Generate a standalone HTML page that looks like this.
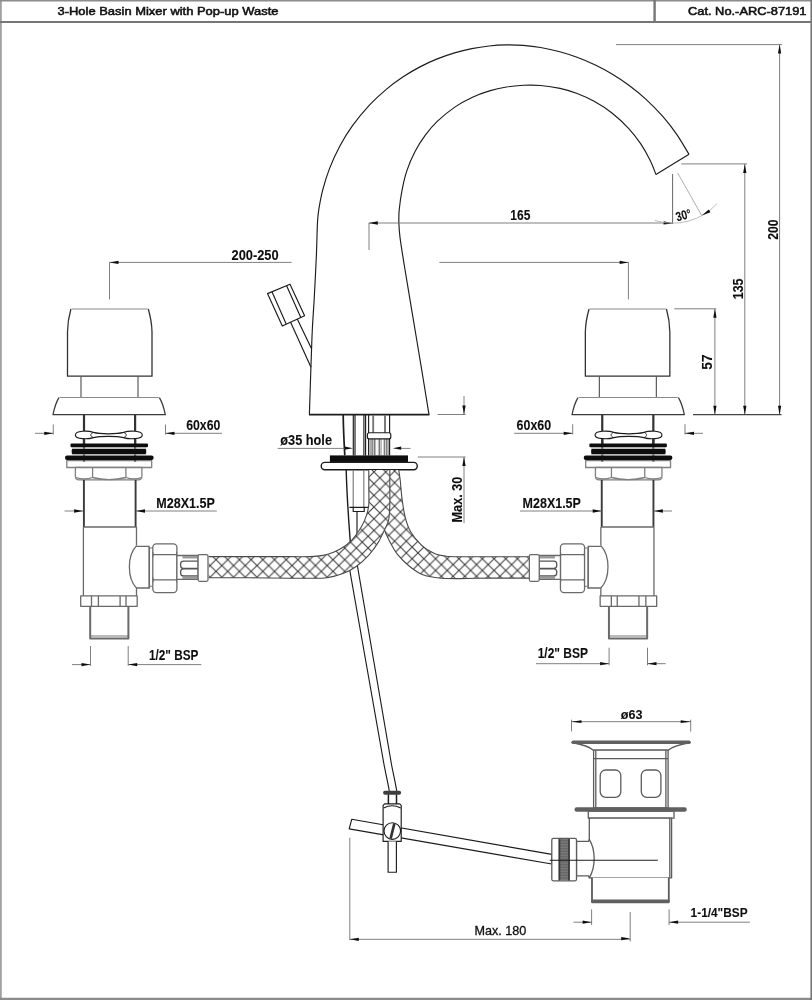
<!DOCTYPE html>
<html><head><meta charset="utf-8"><title>3-Hole Basin Mixer with Pop-up Waste</title>
<style>
html,body{margin:0;padding:0;background:#fff;}
body{width:812px;height:1000px;overflow:hidden;font-family:"Liberation Sans",sans-serif;}
svg{display:block;}
.o{fill:none;stroke:#1c1c1c;stroke-width:1.15;stroke-linejoin:round;stroke-linecap:butt;}
.g{fill:none;stroke:#5c5c5c;stroke-width:1.3;stroke-linejoin:round;}
.h{fill:none;stroke:#484848;stroke-width:1.1;}
.v{fill:none;stroke:#6a6a6a;stroke-width:1.3;stroke-linejoin:round;}
.w{fill:#fff;}
.d{fill:none;stroke:#727272;stroke-width:0.9;}
.a{fill:#111;stroke:none;}
.f{fill:none;stroke:#6e6e6e;stroke-width:2;}
.th{font-family:"Liberation Sans",sans-serif;font-weight:normal;fill:#111;stroke:#111;stroke-width:0.55;}
.t{font-family:"Liberation Sans",sans-serif;font-weight:bold;fill:#111;stroke:#111;stroke-width:0.1;}
.t2{font-family:"Liberation Sans",sans-serif;font-weight:normal;fill:#111;stroke:#111;stroke-width:0.3;}
</style></head><body>
<svg width="812" height="1000" viewBox="0 0 812 1000">
<defs>
<pattern id="hx" width="11.7" height="11.7" patternUnits="userSpaceOnUse" patternTransform="translate(216,559.7)">
<path d="M-1,-1 L12.7,12.7 M12.7,-1 L-1,12.7" stroke="#3c3c3c" stroke-width="1.05" fill="none"/>
</pattern>
<pattern id="hx2" width="11.7" height="11.7" patternUnits="userSpaceOnUse" patternTransform="translate(458.95,558.75)">
<path d="M-1,-1 L12.7,12.7 M12.7,-1 L-1,12.7" stroke="#3c3c3c" stroke-width="1.05" fill="none"/>
</pattern>
<pattern id="kn2" width="1.7" height="4" patternUnits="userSpaceOnUse">
<rect width="1.7" height="4" fill="#ddd"/><path d="M0.5,0 V4" stroke="#555" stroke-width="0.8"/>
</pattern>
<pattern id="kn" width="4" height="1.6" patternUnits="userSpaceOnUse">
<rect width="4" height="1.6" fill="#7c7c7c"/><path d="M0,0.5 H4" stroke="#5a5a5a" stroke-width="0.7"/>
</pattern>
<filter id="bl" x="0" y="0" width="812" height="1000" filterUnits="userSpaceOnUse"><feGaussianBlur stdDeviation="0.5"/></filter>
</defs>
<g filter="url(#bl)">
<rect x="0" y="0" width="812" height="1000" fill="#fff"/>
<path style="stroke:#a0a0a0;stroke-width:1.8" class="f" d="M0.9,0 V1000"/>
<path style="stroke:#8c8c8c;stroke-width:1.6" class="f" d="M0,0.7 H812"/>
<path style="stroke:#8c8c8c;stroke-width:2.3" class="f" d="M0,998.9 H812"/>
<path style="stroke:#6e6e6e;stroke-width:1.5" class="f" d="M811.2,0 V1000"/>
<path style="stroke:#767676;stroke-width:2.1" class="f" d="M0,22 H812"/>
<path style="stroke:#767676;stroke-width:2.4" class="f" d="M654.6,0 V22"/>
<text class="th" x="57.5" y="15.4" font-size="11.6" textLength="221" lengthAdjust="spacingAndGlyphs">3-Hole Basin Mixer with Pop-up Waste</text>
<text class="th" x="688" y="15.4" font-size="11.6" textLength="118.5" lengthAdjust="spacingAndGlyphs">Cat. No.-ARC-87191</text>
<path class="o" d="M309.40,414.60 C309.83,401.57 311.20,355.67 312.00,336.40 C312.80,317.13 313.47,312.57 314.20,299.00 C314.93,285.43 315.85,267.83 316.40,255.00 C316.95,242.17 317.06,229.81 317.50,222.00 C317.94,214.19 318.14,213.58 319.04,208.11 C319.95,202.65 321.17,195.83 322.93,189.20 C324.69,182.58 326.80,175.53 329.60,168.37 C332.41,161.21 335.97,153.30 339.76,146.23 C343.55,139.16 347.40,132.80 352.34,125.95 C357.28,119.11 363.75,111.27 369.40,105.18 C375.05,99.08 380.63,94.09 386.25,89.36 C391.88,84.64 397.53,80.56 403.15,76.82 C408.77,73.07 414.29,69.87 419.97,66.88 C425.65,63.90 431.45,61.24 437.22,58.90 C442.99,56.56 448.80,54.56 454.57,52.84 C460.34,51.12 466.09,49.73 471.84,48.58 C477.58,47.43 483.34,46.58 489.07,45.97 C494.80,45.36 500.49,45.02 506.21,44.92 C511.93,44.83 517.64,44.98 523.38,45.41 C529.13,45.85 534.60,46.47 540.68,47.53 C546.75,48.59 553.78,50.15 559.84,51.78 C565.90,53.42 571.21,55.15 577.04,57.33 C582.87,59.51 588.99,62.06 594.81,64.84 C600.64,67.62 606.26,70.57 611.99,74.00 C617.73,77.44 623.57,81.26 629.20,85.43 C634.83,89.61 640.19,93.88 645.79,99.05 C651.39,104.21 657.63,110.55 662.79,116.43 C667.94,122.31 672.36,128.02 676.73,134.33 C681.09,140.64 686.95,150.96 689.00,154.29"/>
<path class="o" d="M429.00,414.60 C427.83,407.43 424.63,387.57 422.00,371.60 C419.37,355.63 416.13,336.40 413.20,318.80 C410.27,301.20 406.60,279.57 404.40,266.00 C402.20,252.43 400.92,244.55 400.00,237.40 C399.08,230.25 399.03,227.67 398.90,223.10 C398.77,218.53 398.65,215.62 399.20,210.00 C399.75,204.38 400.90,196.00 402.20,189.39 C403.50,182.77 404.82,176.69 406.98,170.33 C409.14,163.97 412.15,157.06 415.17,151.23 C418.20,145.40 421.47,140.32 425.15,135.35 C428.82,130.38 432.21,126.16 437.21,121.41 C442.21,116.66 449.26,110.88 455.15,106.85 C461.03,102.81 466.80,99.85 472.52,97.19 C478.23,94.52 483.80,92.56 489.44,90.86 C495.09,89.16 500.72,87.93 506.39,87.01 C512.05,86.08 517.70,85.55 523.43,85.29 C529.15,85.04 534.63,84.97 540.74,85.49 C546.85,86.01 554.00,87.07 560.06,88.42 C566.13,89.76 571.40,91.35 577.15,93.54 C582.90,95.73 588.78,98.32 594.58,101.56 C600.38,104.80 606.29,108.52 611.95,112.98 C617.61,117.44 623.77,123.20 628.54,128.32 C633.32,133.43 637.00,138.31 640.61,143.66 C644.22,149.02 647.65,155.32 650.21,160.46 C652.77,165.60 655.01,172.17 655.97,174.51"/>
<path class="o" d="M655.97,174.51 L689.00,154.29"/>
<path style="stroke-width:1.6" class="o" d="M309,414.6 H429.4"/>
<path class="o" d="M267.5,293.6 L290,284.2 L304.6,315.8 L282.3,326 Z M272.2,292.2 L286.3,324.2 M286.6,285.8 L300.9,317.8 M290.6,322.3 L311,367.3 M297.4,319.3 L311.3,348.2"/>
<path style="stroke-width:1.7" class="o" d="M343.2,415 C343.4,430 344.2,445 344.8,455.4"/>
<path class="o" d="M353.3,415 V455.4 M355,415 V455.4 M363.9,415 V455.4 M365.6,415 V455.4"/>
<path class="o" d="M368.6,415 V455.4 M389.6,415 V455.4"/>
<path style="stroke:#777;stroke-width:1.9" class="o" d="M373.2,415 V433 M385,415 V433"/>
<rect x="369.6" y="438.9" width="19.4" height="16.6" fill="url(#kn2)"/>
<path d="M377,438.9 V455.4 M382.5,438.9 V455.4" stroke="#fff" stroke-width="1.8" fill="none"/>
<rect class="o w" x="367.4" y="432.7" width="23.4" height="6.2" rx="2"/>
<rect x="329.9" y="455.4" width="78.1" height="7" fill="#111"/>
<rect style="stroke-width:1.4" class="o w" x="321.2" y="462.4" width="96.1" height="7.3" rx="3.6"/>
<path style="stroke-width:1.4" class="o" d="M346.2,469.9 C347,500 349,525 350.3,542"/>
<path style="stroke:#7a7a7a" class="o" d="M353.2,469.9 V507.3 M363.8,469.9 V507.3"/>
<path class="o" d="M349.4,507.3 H368 M353.2,507.3 V511.5 H364.2 V507.3 M357,511.5 V540"/>
<path d="M398.70,469.90 C398.90,471.25 399.76,476.19 400.20,480.00 C400.64,483.81 401.35,493.58 402.00,498.50 C402.65,503.42 403.95,512.47 405.10,516.90 C406.25,521.33 408.39,527.91 410.60,531.70 C412.81,535.49 418.58,542.42 421.70,545.30 C424.82,548.18 430.71,551.83 434.00,553.30 C437.29,554.77 442.93,555.83 446.40,556.30 C449.87,556.77 455.52,556.75 460.00,556.80 C464.48,556.85 474.67,556.71 480.00,556.70 C485.33,556.69 493.36,556.70 500.00,556.70 C506.64,556.70 525.83,556.70 529.80,556.70 L529.80,578.10 C525.83,578.10 507.31,578.07 500.00,578.10 C492.69,578.13 480.84,578.23 475.00,578.30 C469.16,578.37 461.00,578.64 456.20,578.60 C451.40,578.56 443.43,578.51 439.00,578.00 C434.57,577.49 426.95,576.37 423.00,574.80 C419.05,573.23 412.85,568.99 409.40,566.20 C405.95,563.41 399.89,557.51 397.10,553.90 C394.31,550.29 390.22,542.38 388.50,539.10 C386.78,535.82 385.33,532.51 384.20,529.30 C383.07,526.09 380.83,520.24 380.00,515.00 C379.17,509.76 378.31,496.01 378.00,490.00 C377.69,483.99 377.74,472.58 377.70,469.90 Z" fill="#fff" stroke="none"/>
<path d="M398.70,469.90 C398.90,471.25 399.76,476.19 400.20,480.00 C400.64,483.81 401.35,493.58 402.00,498.50 C402.65,503.42 403.95,512.47 405.10,516.90 C406.25,521.33 408.39,527.91 410.60,531.70 C412.81,535.49 418.58,542.42 421.70,545.30 C424.82,548.18 430.71,551.83 434.00,553.30 C437.29,554.77 442.93,555.83 446.40,556.30 C449.87,556.77 455.52,556.75 460.00,556.80 C464.48,556.85 474.67,556.71 480.00,556.70 C485.33,556.69 493.36,556.70 500.00,556.70 C506.64,556.70 525.83,556.70 529.80,556.70 L529.80,578.10 C525.83,578.10 507.31,578.07 500.00,578.10 C492.69,578.13 480.84,578.23 475.00,578.30 C469.16,578.37 461.00,578.64 456.20,578.60 C451.40,578.56 443.43,578.51 439.00,578.00 C434.57,577.49 426.95,576.37 423.00,574.80 C419.05,573.23 412.85,568.99 409.40,566.20 C405.95,563.41 399.89,557.51 397.10,553.90 C394.31,550.29 390.22,542.38 388.50,539.10 C386.78,535.82 385.33,532.51 384.20,529.30 C383.07,526.09 380.83,520.24 380.00,515.00 C379.17,509.76 378.31,496.01 378.00,490.00 C377.69,483.99 377.74,472.58 377.70,469.90 Z" fill="url(#hx2)" stroke="none"/>
<path class="h" d="M398.70,469.90 C398.90,471.25 399.76,476.19 400.20,480.00 C400.64,483.81 401.35,493.58 402.00,498.50 C402.65,503.42 403.95,512.47 405.10,516.90 C406.25,521.33 408.39,527.91 410.60,531.70 C412.81,535.49 418.58,542.42 421.70,545.30 C424.82,548.18 430.71,551.83 434.00,553.30 C437.29,554.77 442.93,555.83 446.40,556.30 C449.87,556.77 455.52,556.75 460.00,556.80 C464.48,556.85 474.67,556.71 480.00,556.70 C485.33,556.69 493.36,556.70 500.00,556.70 C506.64,556.70 525.83,556.70 529.80,556.70"/>
<path class="h" d="M529.80,578.10 C525.83,578.10 507.31,578.07 500.00,578.10 C492.69,578.13 480.84,578.23 475.00,578.30 C469.16,578.37 461.00,578.64 456.20,578.60 C451.40,578.56 443.43,578.51 439.00,578.00 C434.57,577.49 426.95,576.37 423.00,574.80 C419.05,573.23 412.85,568.99 409.40,566.20 C405.95,563.41 399.89,557.51 397.10,553.90 C394.31,550.29 390.22,542.38 388.50,539.10 C386.78,535.82 385.33,532.51 384.20,529.30 C383.07,526.09 380.83,520.24 380.00,515.00 C379.17,509.76 378.31,496.01 378.00,490.00 C377.69,483.99 377.74,472.58 377.70,469.90"/>
<path class="o" d="M346.2,550 L384.1,765 C385.4,772 388,783 389.3,791 M354.7,550 L391.6,765 C392.9,772 395.5,783 396.7,791"/>
<path d="M368.80,469.90 C368.80,471.91 368.80,480.37 368.80,485.00 C368.80,489.63 369.12,500.51 368.80,504.60 C368.48,508.69 367.39,512.74 366.40,515.70 C365.41,518.66 363.37,523.52 361.40,526.80 C359.43,530.08 354.55,537.26 351.60,540.30 C348.65,543.34 342.59,547.71 339.30,549.60 C336.01,551.49 330.19,553.59 326.90,554.50 C323.61,555.41 318.19,556.11 314.60,556.40 C311.01,556.69 304.61,556.67 300.00,556.70 C295.39,556.73 286.67,556.61 280.00,556.60 C273.33,556.59 259.51,556.60 250.00,556.60 C240.49,556.60 214.21,556.60 208.70,556.60 L208.70,577.70 C214.21,577.71 239.16,577.73 250.00,577.80 C260.84,577.87 282.20,578.13 290.00,578.20 C297.80,578.27 303.58,578.37 308.50,578.30 C313.42,578.23 322.30,578.33 326.90,577.70 C331.50,577.07 339.05,575.13 343.00,573.60 C346.95,572.07 353.06,568.67 356.50,566.20 C359.94,563.73 365.84,558.38 368.80,555.10 C371.76,551.82 376.57,545.04 378.70,541.60 C380.83,538.16 383.48,532.18 384.80,529.30 C386.12,526.42 387.93,523.24 388.60,520.00 C389.27,516.76 389.64,509.67 389.80,505.00 C389.96,500.33 389.80,489.68 389.80,485.00 C389.80,480.32 389.80,471.91 389.80,469.90 Z" fill="#fff" stroke="none"/>
<path d="M368.80,469.90 C368.80,471.91 368.80,480.37 368.80,485.00 C368.80,489.63 369.12,500.51 368.80,504.60 C368.48,508.69 367.39,512.74 366.40,515.70 C365.41,518.66 363.37,523.52 361.40,526.80 C359.43,530.08 354.55,537.26 351.60,540.30 C348.65,543.34 342.59,547.71 339.30,549.60 C336.01,551.49 330.19,553.59 326.90,554.50 C323.61,555.41 318.19,556.11 314.60,556.40 C311.01,556.69 304.61,556.67 300.00,556.70 C295.39,556.73 286.67,556.61 280.00,556.60 C273.33,556.59 259.51,556.60 250.00,556.60 C240.49,556.60 214.21,556.60 208.70,556.60 L208.70,577.70 C214.21,577.71 239.16,577.73 250.00,577.80 C260.84,577.87 282.20,578.13 290.00,578.20 C297.80,578.27 303.58,578.37 308.50,578.30 C313.42,578.23 322.30,578.33 326.90,577.70 C331.50,577.07 339.05,575.13 343.00,573.60 C346.95,572.07 353.06,568.67 356.50,566.20 C359.94,563.73 365.84,558.38 368.80,555.10 C371.76,551.82 376.57,545.04 378.70,541.60 C380.83,538.16 383.48,532.18 384.80,529.30 C386.12,526.42 387.93,523.24 388.60,520.00 C389.27,516.76 389.64,509.67 389.80,505.00 C389.96,500.33 389.80,489.68 389.80,485.00 C389.80,480.32 389.80,471.91 389.80,469.90 Z" fill="url(#hx)" stroke="none"/>
<path class="h" d="M368.80,469.90 C368.80,471.91 368.80,480.37 368.80,485.00 C368.80,489.63 369.12,500.51 368.80,504.60 C368.48,508.69 367.39,512.74 366.40,515.70 C365.41,518.66 363.37,523.52 361.40,526.80 C359.43,530.08 354.55,537.26 351.60,540.30 C348.65,543.34 342.59,547.71 339.30,549.60 C336.01,551.49 330.19,553.59 326.90,554.50 C323.61,555.41 318.19,556.11 314.60,556.40 C311.01,556.69 304.61,556.67 300.00,556.70 C295.39,556.73 286.67,556.61 280.00,556.60 C273.33,556.59 259.51,556.60 250.00,556.60 C240.49,556.60 214.21,556.60 208.70,556.60"/>
<path class="h" d="M208.70,577.70 C214.21,577.71 239.16,577.73 250.00,577.80 C260.84,577.87 282.20,578.13 290.00,578.20 C297.80,578.27 303.58,578.37 308.50,578.30 C313.42,578.23 322.30,578.33 326.90,577.70 C331.50,577.07 339.05,575.13 343.00,573.60 C346.95,572.07 353.06,568.67 356.50,566.20 C359.94,563.73 365.84,558.38 368.80,555.10 C371.76,551.82 376.57,545.04 378.70,541.60 C380.83,538.16 383.48,532.18 384.80,529.30 C386.12,526.42 387.93,523.24 388.60,520.00 C389.27,516.76 389.64,509.67 389.80,505.00 C389.96,500.33 389.80,489.68 389.80,485.00 C389.80,480.32 389.80,471.91 389.80,469.90"/>
<g><path style="stroke:none" class="w" d="M67.5,376.2 V332 C67.6,322 69.2,315 70.9,309 H148.3 C150,315 151.8,322 152,332 V376.2 Z"/>
<path style="stroke:#333;stroke-width:1.3" class="o" d="M70.9,309 C69.2,315 67.6,322 67.5,332 V376.2 H152 V332 C151.8,322 150,315 148.3,309"/>
<path style="stroke:#8a8a8a" class="o" d="M71.5,309 H147.7"/>
<path style="stroke:#555" class="o" d="M81,376.2 V397.4 M138,376.2 V397.4"/>
<path style="stroke:none" class="w" d="M58.9,397.4 H159.4 C162,402 164,408 165.3,414.7 H53 C54.3,408 56.3,402 58.9,397.4 Z"/>
<path style="stroke:#3a3a3a;stroke-width:1.25" class="o" d="M58.9,397.6 C56.3,402 54.3,408 53,414.7 H165.3 C164,408 162,402 159.4,397.6"/>
<path style="stroke:#8a8a8a" class="o" d="M59.5,397.5 H158.8"/>
<path style="stroke:#333;stroke-width:2.2" class="o" d="M84,415 V462 M135.1,415 V462"/>
<path class="o w" d="M75.4,434.9 C75.4,430.4 88,430.4 93.5,432.4 C100,434.3 117,434.3 123.5,432.4 C129,430.4 142.3,430.4 142.3,434.9 C142.3,439.4 129,439.4 123.5,437.6 C117,435.9 100,435.9 93.5,437.6 C88,439.4 75.4,439.4 75.4,434.9 Z"/>
<path style="stroke-width:0.9" class="o" d="M93,432.6 C90,434 90,436 93,437.4 M124,432.6 C127,434 127,436 124,437.4"/>
<path style="stroke:#333;stroke-width:2.2" class="o" d="M84,439.2 V444 M135.1,439.2 V444"/>
<rect x="70.5" y="443.5" width="77.5" height="3.8" rx="1" fill="#111"/>
<rect x="71.7" y="449" width="74.5" height="5" rx="1" fill="#111"/>
<rect x="65" y="455.6" width="88.6" height="4.4" rx="2" fill="#111"/>
<path d="M72,448.1 H146 M72,454.8 H146" stroke="#999" stroke-width="1" fill="none"/>
<rect style="stroke:#808080" class="v w" x="66.8" y="460.6" width="84.9" height="6.9"/>
<path style="stroke:#808080" class="v w" d="M75.4,467.5 V476.3 Q75.4,479.8 78.9,479.8 H138.4 Q141.9,479.8 141.9,476.3 V467.5 Z"/>
<path style="stroke:#808080" class="v" d="M92.6,467.5 V478 M125.9,467.5 V478 M76,477.5 Q84,480.5 92.6,477.5 Q109,481.8 125.9,477.5 Q134,480.5 141.3,477.5"/>
<path style="stroke:#333;stroke-width:2.2" class="o" d="M84,460.3 V461.5 M135.1,460.3 V461.5"/>
<path style="stroke:#3a3a3a;stroke-width:1.9" class="o" d="M83.9,480 V527 M135.6,480 V527"/>
<path class="v" d="M83.4,527 V595.9 M136.5,527 V545.6 M136.5,588 V595.9 M83.4,527 H136.5"/>
<path class="v" d="M136.5,545.6 C127,556 127,578 136.5,588 M136.5,546.4 H149.7 M136.5,588 H149.7"/>
<path style="stroke-width:1.7" class="v" d="M149.2,547 V588.4"/>
<path style="stroke-width:0.9" class="v" d="M150,548 H152.8 M150,586.3 H152.8"/>
<rect class="v w" x="152.8" y="543.9" width="24.1" height="48.7" rx="3.5"/>
<path class="v" d="M152.8,554.7 H176.9 M152.8,579.8 H176.9"/>
<path style="stroke-width:0.9" class="v" d="M152.8,552 Q153.8,554.7 152.8,557.4 M176.9,552 Q175.9,554.7 176.9,557.4 M152.8,577.1 Q153.8,579.8 152.8,582.5 M176.9,577.1 Q175.9,579.8 176.9,582.5"/>
<path class="v w" d="M176.9,555.5 H198.1 V579.3 H176.9 Z"/>
<path style="stroke:#9a9a9a;stroke-width:2.6" class="v" d="M182.4,557.3 H198 M182.4,577.7 H198"/>
<rect style="stroke:#555" class="v" x="180.6" y="561.1" width="22" height="7.3" rx="3"/>
<rect style="stroke:#555" class="v" x="180.6" y="568.9" width="22" height="7" rx="3"/>
<rect class="v w" x="198.1" y="554.6" width="9.9" height="26.7" rx="1.5"/>
<rect class="v w" x="80.7" y="595.9" width="56.5" height="10.4"/>
<path class="v" d="M91.5,595.9 V606.3 M98.4,595.9 V606.3 M120.1,595.9 V606.3 M126,595.9 V606.3"/>
<path style="stroke-width:2" class="v" d="M90.2,606.3 V638.4 H128.4 V606.3"/>
<path style="stroke-width:0.9" class="v" d="M90.2,636 H128.4"/></g>
<g transform="translate(737.35,0) scale(-1,1)"><path style="stroke:none" class="w" d="M67.5,376.2 V332 C67.6,322 69.2,315 70.9,309 H148.3 C150,315 151.8,322 152,332 V376.2 Z"/>
<path style="stroke:#333;stroke-width:1.3" class="o" d="M70.9,309 C69.2,315 67.6,322 67.5,332 V376.2 H152 V332 C151.8,322 150,315 148.3,309"/>
<path style="stroke:#8a8a8a" class="o" d="M71.5,309 H147.7"/>
<path style="stroke:#555" class="o" d="M81,376.2 V397.4 M138,376.2 V397.4"/>
<path style="stroke:none" class="w" d="M58.9,397.4 H159.4 C162,402 164,408 165.3,414.7 H53 C54.3,408 56.3,402 58.9,397.4 Z"/>
<path style="stroke:#3a3a3a;stroke-width:1.25" class="o" d="M58.9,397.6 C56.3,402 54.3,408 53,414.7 H165.3 C164,408 162,402 159.4,397.6"/>
<path style="stroke:#8a8a8a" class="o" d="M59.5,397.5 H158.8"/>
<path style="stroke:#333;stroke-width:2.2" class="o" d="M84,415 V462 M135.1,415 V462"/>
<path class="o w" d="M75.4,434.9 C75.4,430.4 88,430.4 93.5,432.4 C100,434.3 117,434.3 123.5,432.4 C129,430.4 142.3,430.4 142.3,434.9 C142.3,439.4 129,439.4 123.5,437.6 C117,435.9 100,435.9 93.5,437.6 C88,439.4 75.4,439.4 75.4,434.9 Z"/>
<path style="stroke-width:0.9" class="o" d="M93,432.6 C90,434 90,436 93,437.4 M124,432.6 C127,434 127,436 124,437.4"/>
<path style="stroke:#333;stroke-width:2.2" class="o" d="M84,439.2 V444 M135.1,439.2 V444"/>
<rect x="70.5" y="443.5" width="77.5" height="3.8" rx="1" fill="#111"/>
<rect x="71.7" y="449" width="74.5" height="5" rx="1" fill="#111"/>
<rect x="65" y="455.6" width="88.6" height="4.4" rx="2" fill="#111"/>
<path d="M72,448.1 H146 M72,454.8 H146" stroke="#999" stroke-width="1" fill="none"/>
<rect style="stroke:#808080" class="v w" x="66.8" y="460.6" width="84.9" height="6.9"/>
<path style="stroke:#808080" class="v w" d="M75.4,467.5 V476.3 Q75.4,479.8 78.9,479.8 H138.4 Q141.9,479.8 141.9,476.3 V467.5 Z"/>
<path style="stroke:#808080" class="v" d="M92.6,467.5 V478 M125.9,467.5 V478 M76,477.5 Q84,480.5 92.6,477.5 Q109,481.8 125.9,477.5 Q134,480.5 141.3,477.5"/>
<path style="stroke:#333;stroke-width:2.2" class="o" d="M84,460.3 V461.5 M135.1,460.3 V461.5"/>
<path style="stroke:#3a3a3a;stroke-width:1.9" class="o" d="M83.9,480 V527 M135.6,480 V527"/>
<path class="v" d="M83.4,527 V595.9 M136.5,527 V545.6 M136.5,588 V595.9 M83.4,527 H136.5"/>
<path class="v" d="M136.5,545.6 C127,556 127,578 136.5,588 M136.5,546.4 H149.7 M136.5,588 H149.7"/>
<path style="stroke-width:1.7" class="v" d="M149.2,547 V588.4"/>
<path style="stroke-width:0.9" class="v" d="M150,548 H152.8 M150,586.3 H152.8"/>
<rect class="v w" x="152.8" y="543.9" width="24.1" height="48.7" rx="3.5"/>
<path class="v" d="M152.8,554.7 H176.9 M152.8,579.8 H176.9"/>
<path style="stroke-width:0.9" class="v" d="M152.8,552 Q153.8,554.7 152.8,557.4 M176.9,552 Q175.9,554.7 176.9,557.4 M152.8,577.1 Q153.8,579.8 152.8,582.5 M176.9,577.1 Q175.9,579.8 176.9,582.5"/>
<path class="v w" d="M176.9,555.5 H198.1 V579.3 H176.9 Z"/>
<path style="stroke:#9a9a9a;stroke-width:2.6" class="v" d="M182.4,557.3 H198 M182.4,577.7 H198"/>
<rect style="stroke:#555" class="v" x="180.6" y="561.1" width="22" height="7.3" rx="3"/>
<rect style="stroke:#555" class="v" x="180.6" y="568.9" width="22" height="7" rx="3"/>
<rect class="v w" x="198.1" y="554.6" width="9.9" height="26.7" rx="1.5"/>
<rect class="v w" x="80.7" y="595.9" width="56.5" height="10.4"/>
<path class="v" d="M91.5,595.9 V606.3 M98.4,595.9 V606.3 M120.1,595.9 V606.3 M126,595.9 V606.3"/>
<path style="stroke-width:2" class="v" d="M90.2,606.3 V638.4 H128.4 V606.3"/>
<path style="stroke-width:0.9" class="v" d="M90.2,636 H128.4"/></g>
<rect x="383.1" y="790.8" width="18" height="3.9" rx="1.9" fill="#3c3c3c"/>
<path style="stroke-width:1.5" class="o" d="M388.4,794.6 V804 M396.5,794.6 V804"/>
<path class="o w" d="M351.7,819.3 L551.8,854.4 V864 L349.2,828.9 Z"/>
<path class="o w" d="M384.6,803.9 H399.7 L401.2,805.4 V841.4 H383.1 V805.4 Z"/>
<path class="o" d="M383.6,808 Q392.1,803.5 400.7,808"/>
<circle class="o w" cx="392.3" cy="831" r="8.3"/>
<path style="stroke-width:2.6;stroke:#333" class="o" d="M394.4,823.4 L390.6,838.6"/>
<path class="o w" d="M388.1,841.4 V872.2 H396.4 V841.4"/>
<path class="g w" d="M572,742.5 C585,745 590,747 593.4,750.2 H668.2 C671.5,747 677,745 690.2,742.5 Z"/>
<rect x="571.5" y="740.5" width="119.2" height="3.5" rx="1.7" fill="#606060"/>
<path class="g w" d="M593.6,750.2 V807.8 H668.1 V750.2 Z"/>
<path class="g" d="M595.8,750.2 V807.8 M665.9,750.2 V807.8 M593.6,758.7 H668.1"/>
<rect class="g" x="600.2" y="770" width="20.6" height="27.3" rx="5.5"/>
<rect class="g" x="641.3" y="770" width="19.6" height="27.3" rx="5.5"/>
<path class="g w" d="M588.3,811 V818.2 H674 V811 Z"/>
<rect x="574.5" y="807.2" width="112.3" height="4.6" rx="2.2" fill="#606060"/>
<path class="g w" d="M589.3,818.2 V877.8 H671.6 V818.2 Z"/>
<path class="g" d="M669.8,818.2 V877.8"/>
<path style="stroke-width:1.8" class="g w" d="M592,877.8 V901.5 H668.8 V877.8"/>
<rect x="591.2" y="899.6" width="78.4" height="3.6" rx="1" fill="#606060"/>
<path class="g w" d="M589.3,839.4 C595.8,850 595.8,867 589.3,877.8 L588.6,875.9 H576.5 V841.4 H588.6 Z"/>
<rect class="g w" x="551.8" y="838.4" width="24.7" height="42.4" rx="1.5"/>
<rect x="558.7" y="839" width="11" height="41.2" fill="url(#kn)"/>
<path style="stroke:#3a3a3a;stroke-width:1.7" class="g" d="M559.4,838.9 V880.6 M569,838.9 V880.6"/>
<path style="stroke-width:1.1" class="o" d="M549.8,860.2 H657.8"/>
<path class="d" d="M109.5,262.4 H291.6 M439.4,262.4 H628.6 M109.5,262.4 V299.5 M628.4,262.4 V299.4"/>
<path class="a" d="M109.50,262.40 L118.50,260.75 L118.50,264.05 Z"/>
<path class="a" d="M628.60,262.40 L619.60,264.05 L619.60,260.75 Z"/>
<text class="t" x="231.50" y="259.60" font-size="14.00" textLength="47.10" lengthAdjust="spacingAndGlyphs">200-250</text>
<path class="d" d="M368.8,223 H672.4 M369,223 V250"/>
<path class="a" d="M368.80,223.00 L377.80,221.35 L377.80,224.65 Z"/>
<path class="a" d="M672.60,223.60 L663.49,224.46 L663.78,221.17 Z"/>
<text class="t" x="510.30" y="220.30" font-size="14.00" textLength="20.00" lengthAdjust="spacingAndGlyphs">165</text>
<path style="stroke:#555" class="d" d="M672.6,174 V224"/>
<path style="stroke:#999;stroke-width:0.8" class="d" d="M677.6,172.8 L701.6,215.3"/>
<path style="stroke:#aaa;stroke-width:0.8" class="d" d="M654.8,220.4 A59.8,59.8 0 0 0 717,203.6"/>
<path class="a" d="M701.80,215.40 L708.77,209.47 L710.42,212.33 Z"/>
<text class="t" transform="translate(677.2,221.6) rotate(-16)" x="0" y="0" font-size="13" textLength="15.5" lengthAdjust="spacingAndGlyphs">30&#176;</text>
<path class="d" d="M681.3,163.9 H747 M744.8,163.9 V414.7 M616,44.6 H782 M779.6,44.6 V414.7 M674.3,308.8 H716.3 M714.9,308.8 V414.7"/>
<path style="stroke:#444;stroke-width:1.2" class="d" d="M693,414.7 H781.5"/>
<path class="a" d="M744.80,163.90 L746.45,172.90 L743.15,172.90 Z"/>
<path class="a" d="M744.80,414.70 L743.15,405.70 L746.45,405.70 Z"/>
<path class="a" d="M779.60,44.60 L781.25,53.60 L777.95,53.60 Z"/>
<path class="a" d="M779.60,414.70 L777.95,405.70 L781.25,405.70 Z"/>
<path class="a" d="M714.90,308.80 L716.55,317.80 L713.25,317.80 Z"/>
<path class="a" d="M714.90,414.70 L713.25,405.70 L716.55,405.70 Z"/>
<text class="t" transform="translate(743.00,288.90) rotate(-90)" x="-10.40" y="0" font-size="14.00" textLength="20.80" lengthAdjust="spacingAndGlyphs">135</text>
<text class="t" transform="translate(777.60,229.60) rotate(-90)" x="-10.20" y="0" font-size="14.00" textLength="20.40" lengthAdjust="spacingAndGlyphs">200</text>
<text class="t" transform="translate(712.40,362.10) rotate(-90)" x="-7.65" y="0" font-size="14.00" textLength="15.30" lengthAdjust="spacingAndGlyphs">57</text>
<path class="d" d="M437.6,414.5 H465.6 M464,396 V414.5 M417.8,457 H465.6 M464,457 V523.2"/>
<path class="a" d="M464.00,414.50 L462.35,405.50 L465.65,405.50 Z"/>
<path class="a" d="M464.00,457.00 L465.65,466.00 L462.35,466.00 Z"/>
<text class="t" transform="translate(462.20,499.60) rotate(-90)" x="-22.80" y="0" font-size="14.00" textLength="45.60" lengthAdjust="spacingAndGlyphs">Max. 30</text>
<path class="d" d="M277.7,448.4 H345 M400,448.4 H410.5"/>
<path class="a" d="M353.00,448.20 L344.50,449.85 L344.50,446.55 Z"/>
<path class="a" d="M392.70,448.20 L401.20,446.55 L401.20,449.85 Z"/>
<text class="t" x="280.30" y="445.20" font-size="14.00" textLength="51.70" lengthAdjust="spacingAndGlyphs">&#248;35 hole</text>
<path class="d" d="M53.25,424.5 V434.5 M35,433.3 H53.25 M165.5,424.5 V434.5 M165.5,433.3 H222"/>
<path class="a" d="M53.25,433.30 L44.25,434.95 L44.25,431.65 Z"/>
<path class="a" d="M165.50,433.30 L174.50,431.65 L174.50,434.95 Z"/>
<text class="t" x="186.20" y="429.70" font-size="14.00" textLength="34.20" lengthAdjust="spacingAndGlyphs">60x60</text>
<path class="d" d="M572.7,424.2 V434.5 M514.2,433.3 H572.7 M685,424.2 V434.5 M685,433.3 H703"/>
<path class="a" d="M572.70,433.30 L563.70,434.95 L563.70,431.65 Z"/>
<path class="a" d="M685.00,433.30 L694.00,431.65 L694.00,434.95 Z"/>
<text class="t" x="516.60" y="429.70" font-size="14.00" textLength="34.50" lengthAdjust="spacingAndGlyphs">60x60</text>
<path class="d" d="M64.6,511 H83.1 M136,511 H216.8"/>
<path class="a" d="M83.10,511.00 L74.10,512.65 L74.10,509.35 Z"/>
<path class="a" d="M136.00,511.00 L145.00,509.35 L145.00,512.65 Z"/>
<text class="t" x="156.30" y="508.20" font-size="14.00" textLength="58.60" lengthAdjust="spacingAndGlyphs">M28X1.5P</text>
<path class="d" d="M520,511 H601.7 M653.9,511 H672"/>
<path class="a" d="M601.70,511.00 L592.70,512.65 L592.70,509.35 Z"/>
<path class="a" d="M653.90,511.00 L662.90,509.35 L662.90,512.65 Z"/>
<text class="t" x="522.60" y="507.80" font-size="14.00" textLength="58.30" lengthAdjust="spacingAndGlyphs">M28X1.5P</text>
<path class="d" d="M90.5,646 V665.8 M128.2,646 V665.8 M72,664.6 H90.5 M128.2,664.6 H201.3"/>
<path class="a" d="M90.50,664.60 L81.50,666.25 L81.50,662.95 Z"/>
<path class="a" d="M128.20,664.60 L137.20,662.95 L137.20,666.25 Z"/>
<text class="t" x="148.90" y="659.70" font-size="14.00" textLength="49.50" lengthAdjust="spacingAndGlyphs">1/2&quot; BSP</text>
<path class="d" d="M609.1,647.7 V665.3 M647.5,647.7 V665.3 M536,663.7 H609.1 M647.5,663.7 H665.7"/>
<path class="a" d="M609.10,663.70 L600.10,665.35 L600.10,662.05 Z"/>
<path class="a" d="M647.50,663.70 L656.50,662.05 L656.50,665.35 Z"/>
<text class="t" x="537.70" y="658.30" font-size="14.00" textLength="50.30" lengthAdjust="spacingAndGlyphs">1/2&quot; BSP</text>
<path class="d" d="M571.5,721.7 H690.7 M571.5,719.7 V731.5 M690.7,719.7 V731.5"/>
<path class="a" d="M571.50,721.70 L581.50,720.30 L581.50,723.10 Z"/>
<path class="a" d="M690.70,721.70 L680.70,723.10 L680.70,720.30 Z"/>
<text class="t" x="620.80" y="719.30" font-size="12.00" textLength="21.70" lengthAdjust="spacingAndGlyphs">&#248;63</text>
<path class="d" d="M591.6,909.4 V925 M669.1,909.4 V925 M573.5,922.2 H591.6 M669.1,922.2 H749.9"/>
<path class="a" d="M591.60,922.20 L582.60,923.85 L582.60,920.55 Z"/>
<path class="a" d="M669.10,922.20 L678.10,920.55 L678.10,923.85 Z"/>
<text class="t" x="690.60" y="916.90" font-size="13.20" textLength="57.00" lengthAdjust="spacingAndGlyphs">1-1/4&quot;BSP</text>
<path class="d" d="M349.8,939.3 H630.2 M349.8,837.7 V940 M630.2,912 V941.4"/>
<path class="a" d="M349.80,939.30 L358.80,937.65 L358.80,940.95 Z"/>
<path class="a" d="M630.20,938.60 L621.20,940.25 L621.20,936.95 Z"/>
<text class="t2" x="474.50" y="934.50" font-size="12.20" textLength="51.80" lengthAdjust="spacingAndGlyphs">Max. 180</text>
</g>
</svg>
</body></html>
